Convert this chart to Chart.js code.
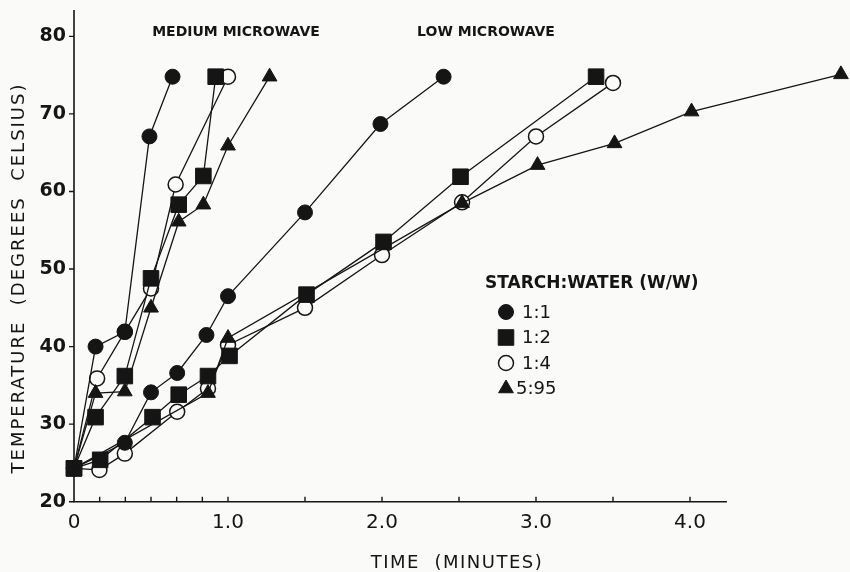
<!DOCTYPE html>
<html>
<head>
<meta charset="utf-8">
<title>Temperature vs time, microwave heating</title>
<script src="https://cdn.jsdelivr.net/npm/chart.js@4.4.1/dist/chart.umd.min.js"></script>
<style>
  html, body { margin: 0; padding: 0; background: #fafaf8; }
  #wrap { width: 850px; height: 572px; }
</style>
</head>
<body>
<div id="wrap"><canvas id="temps" width="850" height="572"></canvas></div>
<script>
// time in minutes, temperature in degrees celsius

// medium microwave
var med11Time  = [0, 0.14, 0.33, 0.49, 0.64];
var med11Temp  = [24.3, 40.0, 41.9, 67.1, 74.8];
var med12Time  = [0, 0.14, 0.33, 0.50, 0.68, 0.84, 0.92];
var med12Temp  = [24.3, 30.9, 36.2, 48.8, 58.3, 62.0, 74.8];
var med14Time  = [0, 0.15, 0.33, 0.50, 0.66, 1.0];
var med14Temp  = [24.3, 35.9, 41.9, 47.5, 60.9, 74.8];
var med595Time = [0, 0.14, 0.33, 0.50, 0.68, 0.84, 1.0, 1.27];
var med595Temp = [24.3, 34.0, 34.2, 45.0, 56.1, 58.3, 65.9, 74.8];

// low microwave
var low11Time  = [0, 0.33, 0.50, 0.67, 0.86, 1.0, 1.5, 1.99, 2.40];
var low11Temp  = [24.3, 27.6, 34.1, 36.6, 41.5, 46.5, 57.3, 68.7, 74.8];
var low12Time  = [0, 0.17, 0.51, 0.68, 0.87, 1.01, 1.51, 2.01, 2.51, 3.39];
var low12Temp  = [24.3, 25.4, 30.9, 33.8, 36.2, 38.8, 46.7, 53.5, 61.9, 74.8];
var low14Time  = [0, 0.165, 0.33, 0.67, 0.87, 1.0, 1.5, 2.0, 2.52, 3.0, 3.5];
var low14Temp  = [24.3, 24.1, 26.2, 31.6, 34.6, 40.2, 45.0, 51.8, 58.6, 67.1, 74.0];
var low595Time = [0, 0.87, 1.0, 2.52, 3.01, 3.51, 4.01, 4.98];
var low595Temp = [24.3, 34.0, 41.1, 58.5, 63.4, 66.2, 70.3, 75.1];

// axes
var xLabelTicks = [0, 1, 2, 3, 4];
var xMarks = [1/6, 2/6, 3/6, 4/6, 5/6, 1, 1.5, 2, 2.5, 3, 3.5, 4];
var yTicks = [20, 30, 40, 50, 60, 70, 80];
var legendLabels = ['1:1', '1:2', '1:4', '5:95'];

const INK = '#151515';
const PAPER = '#fafaf8';
const FONT = '"DejaVu Sans", sans-serif';

const styles = {
    dot:    { pointStyle: 'circle',   pointRadius: 7.5, pointBackgroundColor: INK,   pointBorderWidth: 1 },
    square: { pointStyle: 'rect',     pointRadius: 11,  pointBackgroundColor: INK,   pointBorderWidth: 1 },
    ring:   { pointStyle: 'circle',   pointRadius: 7.5, pointBackgroundColor: PAPER, pointBorderWidth: 1.5 },
    tri:    { pointStyle: 'triangle', pointRadius: 8.5, pointBackgroundColor: INK,   pointBorderWidth: 1 }
};

// drawing order: lower "order" ends on top
const orderOf = { tri: 1, square: 2, dot: 3, ring: 4 };

function make_dataset(label, times, temps, kind)
{
    let ds = {
        label: label,
        data: times.map(function (t, i) { return { x: t, y: temps[i] }; }),
        showLine: true,
        borderColor: INK,
        borderWidth: 1.3,
        pointBorderColor: INK,
        pointHoverRadius: styles[kind].pointRadius,
        clip: false,
        order: orderOf[kind]
    };
    return Object.assign(ds, styles[kind]);
}

const datasets = [
    make_dataset('medium 1:1',  med11Time,  med11Temp,  'dot'),
    make_dataset('medium 1:2',  med12Time,  med12Temp,  'square'),
    make_dataset('medium 1:4',  med14Time,  med14Temp,  'ring'),
    make_dataset('medium 5:95', med595Time, med595Temp, 'tri'),
    make_dataset('low 1:1',  low11Time,  low11Temp,  'dot'),
    make_dataset('low 1:2',  low12Time,  low12Temp,  'square'),
    make_dataset('low 1:4',  low14Time,  low14Temp,  'ring'),
    make_dataset('low 5:95', low595Time, low595Temp, 'tri')
];

function symbol(ctx, kind, x, y)
{
    const s = styles[kind];
    const r = s.pointRadius;
    ctx.save();
    ctx.fillStyle = s.pointBackgroundColor;
    ctx.strokeStyle = INK;
    ctx.lineWidth = s.pointBorderWidth;
    ctx.beginPath();
    if (kind === 'square') {
        const h = r * Math.SQRT1_2;
        ctx.rect(x - h, y - h, 2 * h, 2 * h);
    } else if (kind === 'tri') {
        ctx.moveTo(x, y - r);
        ctx.lineTo(x + r * Math.sin(2 * Math.PI / 3), y - r * Math.cos(2 * Math.PI / 3));
        ctx.lineTo(x + r * Math.sin(4 * Math.PI / 3), y - r * Math.cos(4 * Math.PI / 3));
        ctx.closePath();
    } else {
        ctx.arc(x, y, r, 0, Math.PI * 2);
    }
    ctx.fill();
    ctx.stroke();
    ctx.restore();
}

// axis lines with the inward x ticks and outward y ticks, plus the text in the plot
const frame = {
    id: 'frame',
    beforeDatasetsDraw(chart) {
        const ctx = chart.ctx;
        const x = chart.scales.x, y = chart.scales.y;
        const x0 = x.getPixelForValue(0);
        const y0 = y.getPixelForValue(20);
        ctx.save();
        ctx.strokeStyle = INK;
        ctx.lineWidth = 1.6;
        ctx.beginPath();
        ctx.moveTo(x0, y.getPixelForValue(83.4));
        ctx.lineTo(x0, y0);
        ctx.lineTo(x.getPixelForValue(4.24), y0);
        ctx.stroke();
        ctx.lineWidth = 1.4;
        ctx.beginPath();
        yTicks.forEach(function (v) {
            const py = y.getPixelForValue(v);
            ctx.moveTo(x0 - 5, py);
            ctx.lineTo(x0, py);
        });
        xMarks.forEach(function (t) {
            const px = x.getPixelForValue(t);
            ctx.moveTo(px, y0);
            ctx.lineTo(px, y0 - 5);
        });
        ctx.stroke();
        ctx.restore();
    },
    afterDraw(chart) {
        const ctx = chart.ctx;
        ctx.save();
        ctx.fillStyle = INK;
        ctx.textBaseline = 'middle';

        // panel headings
        ctx.textAlign = 'center';
        ctx.font = 'bold 14px ' + FONT;
        ctx.fillText('MEDIUM MICROWAVE', 236, 32);
        ctx.fillText('LOW MICROWAVE', 486, 32);

        // axis titles
        ctx.font = '18px ' + FONT;
        ctx.letterSpacing = '1.5px';
        ctx.fillText('TIME  (MINUTES)', 457, 563);
        ctx.save();
        ctx.translate(19, 278);
        ctx.rotate(-Math.PI / 2);
        ctx.letterSpacing = '2px';
        ctx.fillText('TEMPERATURE  (DEGREES  CELSIUS)', 0, 0);
        ctx.restore();

        // legend
        ctx.textAlign = 'left';
        ctx.letterSpacing = '0px';
        ctx.font = 'bold 17px ' + FONT;
        ctx.fillText('STARCH:WATER (W/W)', 485, 284);
        ctx.font = '18px ' + FONT;
        const kinds = ['dot', 'square', 'ring', 'tri'];
        kinds.forEach(function (k, i) {
            const yy = 312 + i * 25.5;
            symbol(ctx, k, 506, yy);
            ctx.fillText(legendLabels[i], k === 'tri' ? 516 : 522, yy + 1);
        });
        ctx.restore();
    }
};

const chart = new Chart(document.getElementById('temps'), {
    type: 'scatter',
    data: { datasets: datasets },
    options: {
        responsive: false,
        animation: false,
        devicePixelRatio: 1,
        layout: { autoPadding: false, padding: { top: 10, right: 6, bottom: 0, left: 0 } },
        scales: {
            x: {
                type: 'linear',
                min: 0,
                max: 5,
                afterBuildTicks: function (s) { s.ticks = xLabelTicks.map(function (v) { return { value: v }; }); },
                afterFit: function (s) {
                    s.height = 70.3;
                    s.paddingLeft = 0;
                    s.paddingRight = 0;
                },
                grid: { display: false, drawTicks: false },
                border: { display: false },
                ticks: {
                    color: INK,
                    padding: 9,
                    maxRotation: 0,
                    autoSkip: false,
                    font: { family: FONT, size: 20 },
                    callback: function (v) { return v === 0 ? '0' : v.toFixed(1); }
                }
            },
            y: {
                min: 20,
                max: 83.4,
                afterBuildTicks: function (s) { s.ticks = yTicks.map(function (v) { return { value: v }; }); },
                afterFit: function (s) {
                    s.width = 74;
                    s.paddingTop = 0;
                    s.paddingBottom = 0;
                },
                grid: { display: false, drawTicks: false },
                border: { display: false },
                ticks: {
                    color: INK,
                    padding: 8,
                    font: { family: FONT, size: 19, weight: 'bold' }
                }
            }
        },
        plugins: {
            legend: { display: false },
            tooltip: { enabled: false }
        }
    },
    plugins: [frame]
});
</script>
</body>
</html>
